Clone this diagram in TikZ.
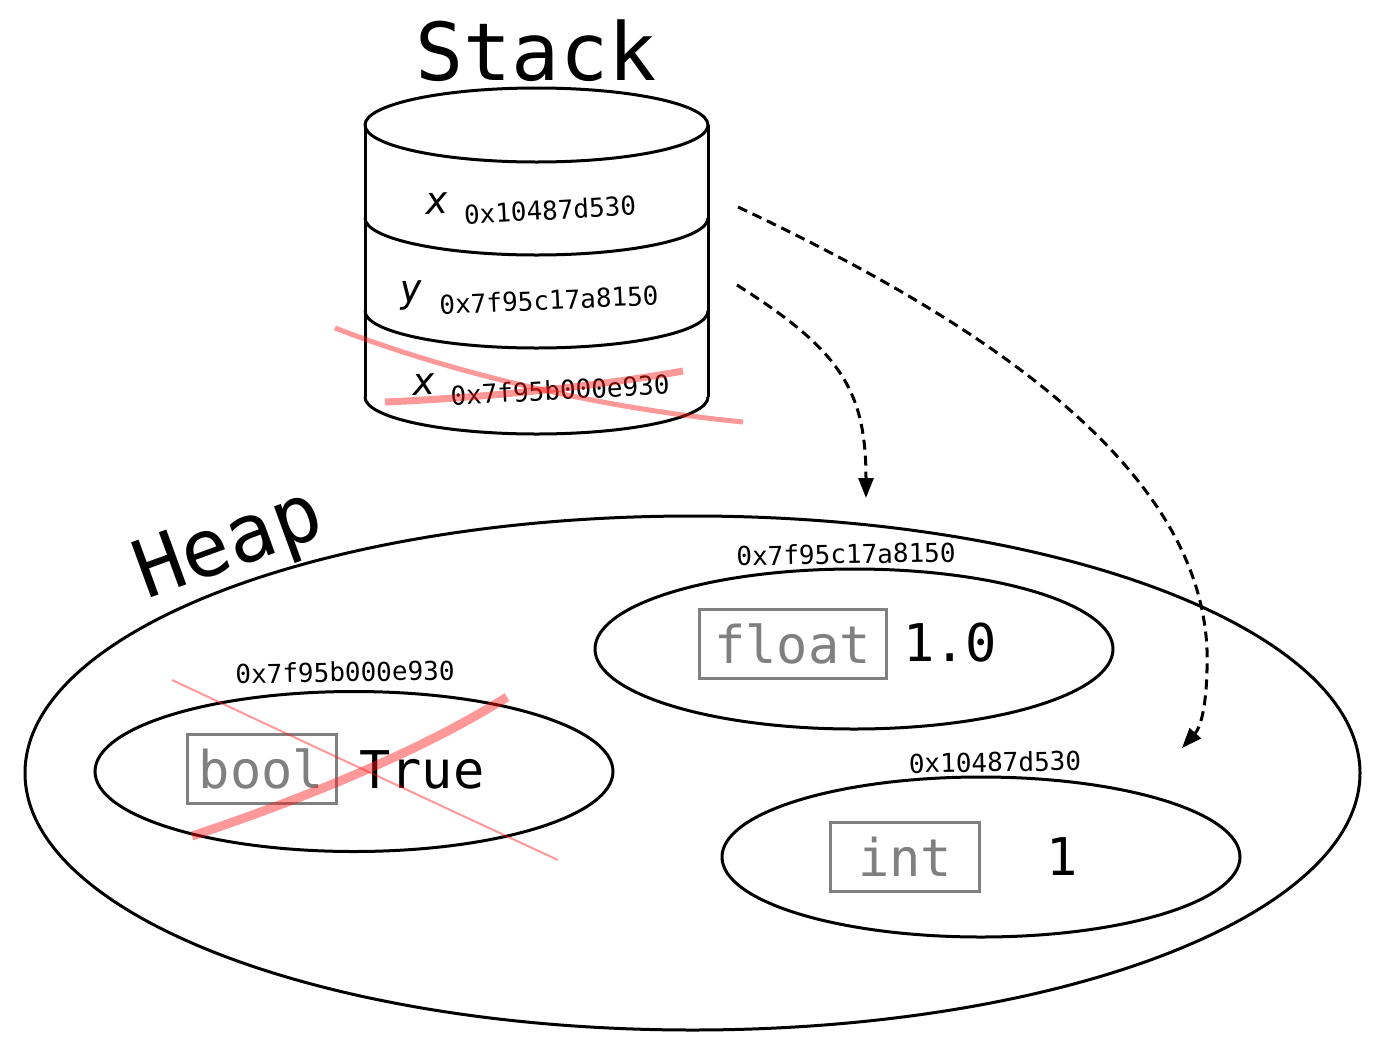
\documentclass[tikz,border=0pt]{standalone}
\usepackage{fontspec}
\setmainfont{DejaVu Sans Mono}[ItalicFont={DejaVu Sans Mono Oblique}]
\setmonofont{DejaVu Sans Mono}[ItalicFont={DejaVu Sans Mono Oblique}]
\usetikzlibrary{arrows.meta,shapes.geometric}

\definecolor{boxgray}{HTML}{808080}
\definecolor{strikered}{HTML}{FF1A1A}

\newcommand\titlesize{\fontsize{80}{80}\selectfont\ttfamily}
\newcommand\addrsize{\fontsize{26}{26}\selectfont\ttfamily}
\newcommand\varsize{\fontsize{38}{38}\selectfont\ttfamily\itshape}
\newcommand\valsize{\fontsize{52}{52}\selectfont\ttfamily}

\tikzset{
  outline/.style={draw=black, line width=3pt},
  blob/.style={outline, ellipse, inner sep=0pt, minimum width=518pt, minimum height=160pt},
  typebox/.style={draw=boxgray, line width=3pt, text=boxgray, font=\valsize,
                  inner sep=0pt, minimum width=149pt, minimum height=69pt},
  valtext/.style={font=\valsize, inner sep=0pt},
  addr/.style={font=\addrsize, inner sep=0pt},
  varname/.style={font=\varsize, inner sep=0pt},
  title/.style={font=\titlesize, inner sep=0pt, anchor=base},
  ref/.style={line width=3pt, dash pattern=on 10pt off 6pt,
              -{Triangle[length=20pt,width=15pt]}},
  strike/.style={draw=strikered, opacity=0.45, line cap=butt}
}

\begin{document}
\begin{tikzpicture}[x=1pt, y=-1pt, font=\ttfamily]
\useasboundingbox (0,0) rectangle (1398,1058);

% ---- stack: a cylinder with three frames ----
\node[title] (stacktitle) at (536,80) {Stack};
\draw[outline] (536.5,125) ellipse [x radius=171.5, y radius=37];
\draw[outline] (365,125) -- (365,397);
\draw[outline] (708,125) -- (708,397);
\foreach \yy in {218,311,397}
  \draw[outline] (365,\yy) arc[start angle=180, end angle=360, x radius=171.5pt, y radius=37pt];

\node[varname, rotate=3] (vx) at (437,204) {x};
\node[addr, rotate=3] (ax) at (550,210) {0x10487d530};
\node[varname, rotate=3] (vy) at (412,295) {y};
\node[addr, rotate=2.5] (ay) at (549,300) {0x7f95c17a8150};
\node[varname, rotate=3] (vold) at (424,385) {x};
\node[addr, rotate=3] (aold) at (560,390) {0x7f95b000e930};

\coordinate (xrow) at (738,207);
\coordinate (yrow) at (737,285);

% ---- heap with three objects ----
\node[outline, ellipse, inner sep=0pt, minimum width=1335pt, minimum height=514pt] (heap) at (692.5,773) {};
\node[title, rotate=20] (heaptitle) at (237,567) {Heap};

\node[blob] (floatobj) at (854,649) {};
\node[addr, rotate=1] (floataddr) at (846,554) {0x7f95c17a8150};
\node[typebox, minimum width=187pt] (floattype) at (792.5,643.5) {float};
\node[valtext] (floatval) at (950,643) {1.0};

\node[blob] (boolobj) at (354,771.5) {};
\node[addr, rotate=1] (booladdr) at (345,672) {0x7f95b000e930};
\node[typebox] (booltype) at (261.5,768.5) {bool};
\node[valtext] (boolval) at (422,770) {True};

\node[blob] (intobj) at (981,857) {};
\node[addr, rotate=1] (intaddr) at (995,762) {0x10487d530};
\node[typebox] (inttype) at (905,856.5) {int};
\node[valtext] (intval) at (1062,857) {1};

\coordinate (floatin) at (866,498);
\coordinate (intin) at (1182,748);

% ---- references from stack to heap ----
\draw[ref] (yrow) .. controls (840,350) and (866,390) .. (floatin);
\draw[ref] (xrow) .. controls (1000,330) and (1215,480) .. (1207,670)
           .. controls (1206,710) and (1200,728) .. (intin);

% ---- struck-out frame and object ----
\draw[strike, line width=5pt] (335,328) .. controls (470,380) and (620,410) .. (743,422);
\draw[strike, line width=7pt] (385,402) .. controls (480,398) and (600,386) .. (683,371);
\draw[strike, line width=2pt] (172,680) .. controls (300,740) and (450,810) .. (558,860);
\draw[strike, line width=9pt] (192,836) .. controls (300,800) and (420,752) .. (507,697);
\end{tikzpicture}
\end{document}
